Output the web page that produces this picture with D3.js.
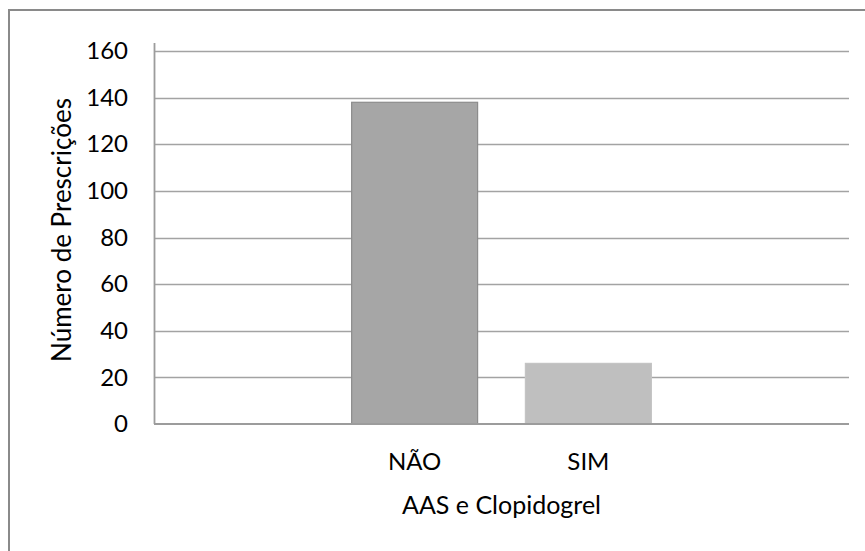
<!DOCTYPE html>
<html>
<head>
<meta charset="utf-8">
<script src="https://cdn.jsdelivr.net/npm/d3@7"></script>
<style>
  html, body { margin: 0; padding: 0; background: #fff; }
  svg { display: block; }
  text { font-family: Lato, "Open Sans", sans-serif; fill: #000; }
</style>
</head>
<body>
<svg id="chart" width="865" height="551"></svg>
<script>
// Categories on the x axis (outer slots are empty)
const categories = ["", "NÃO", "SIM", ""];
const values = [null, 138, 26, null];
const barColors = [null, "#a6a6a6", "#bfbfbf", null];
const barStrokes = [null, "#8c8c8c", "#c4c4c4", null];
const yTicks = [0, 20, 40, 60, 80, 100, 120, 140, 160];
const yTitle = "Número de Prescrições";
const xTitle = "AAS e Clopidogrel";

const svg = d3.select("#chart");
const W = 865, H = 551;
const plot = { left: 154, right: 849, top: 51, bottom: 424 };

// Outer chart frame (runs past the right and bottom edges)
svg.append("rect")
  .attr("x", 9).attr("y", 10)
  .attr("width", W).attr("height", H)
  .attr("fill", "#fff")
  .attr("stroke", "#8a8a8a")
  .attr("stroke-width", 2);

const idx = categories.map((d, i) => i);
const x = d3.scaleBand()
  .domain(idx)
  .range([plot.left, plot.right])
  .paddingInner(0.275)
  .paddingOuter(0.1375);

const y = d3.scaleLinear()
  .domain([0, 160])
  .range([plot.bottom, plot.top]);

// Horizontal gridlines
svg.append("g")
  .selectAll("line")
  .data(yTicks.filter(t => t > 0))
  .join("line")
  .attr("x1", plot.left).attr("x2", plot.right)
  .attr("y1", d => Math.round(y(d)) + 0.5)
  .attr("y2", d => Math.round(y(d)) + 0.5)
  .attr("stroke", "#a3a3a3")
  .attr("stroke-width", 1.5);

// Bars
svg.append("g")
  .selectAll("rect")
  .data(idx.filter(i => values[i] != null))
  .join("rect")
  .attr("x", i => x(i))
  .attr("y", i => y(values[i]))
  .attr("width", x.bandwidth())
  .attr("height", i => y(0) - y(values[i]))
  .attr("fill", i => barColors[i])
  .attr("stroke", i => barStrokes[i])
  .attr("stroke-width", 1.2);

// Y axis (labels only, no tick marks)
const yAxis = d3.axisLeft(y).tickValues(yTicks).tickSize(0).tickPadding(26);
const gy = svg.append("g")
  .attr("transform", `translate(${plot.left},0)`)
  .call(yAxis);
gy.select(".domain").remove();
gy.selectAll("text")
  .style("font-family", "Lato, 'Open Sans', sans-serif")
  .style("font-size", "24px")
  .attr("fill", "#000");

// Axis lines
svg.append("line")
  .attr("x1", plot.left + 0.5).attr("x2", plot.left + 0.5)
  .attr("y1", 43).attr("y2", plot.bottom)
  .attr("stroke", "#9c9c9c").attr("stroke-width", 1.8);
svg.append("line")
  .attr("x1", plot.left).attr("x2", plot.right)
  .attr("y1", plot.bottom).attr("y2", plot.bottom)
  .attr("stroke", "#9c9c9c").attr("stroke-width", 1.8);

// X axis labels
const xAxis = d3.axisBottom(x).tickSize(0).tickPadding(29)
  .tickFormat(i => categories[i]);
const gx = svg.append("g")
  .attr("transform", `translate(0,${plot.bottom})`)
  .call(xAxis);
gx.select(".domain").remove();
gx.selectAll("text")
  .style("font-family", "Lato, 'Open Sans', sans-serif")
  .style("font-size", "24px")
  .attr("fill", "#000");

// Axis titles
svg.append("text")
  .attr("x", (plot.left + plot.right) / 2)
  .attr("y", 514)
  .attr("text-anchor", "middle")
  .style("font-size", "25px")
  .text(xTitle);

svg.append("text")
  .attr("transform", "translate(71,230) rotate(-90)")
  .attr("text-anchor", "middle")
  .style("font-size", "26px")
  .text(yTitle);
</script>
</body>
</html>
